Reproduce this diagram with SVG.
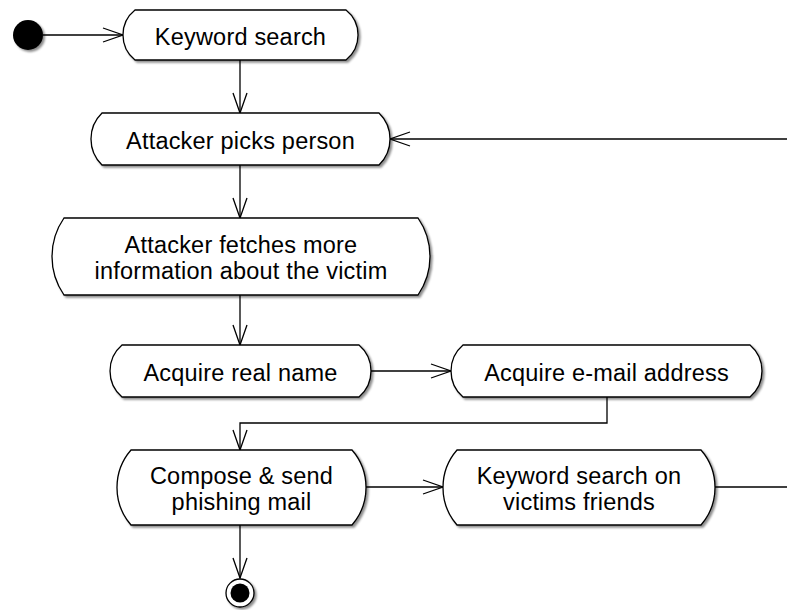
<svg xmlns="http://www.w3.org/2000/svg" width="787" height="610" viewBox="0 0 787 610">
  <defs>
    <style>
      .node path { fill: #fff; stroke: #000; stroke-width: 1.3; filter: url(#shadow); }
      .node text { font-family: "Liberation Sans", Arial, sans-serif; font-size: 23.5px; letter-spacing: 0.2px; fill: #000; text-anchor: middle; }
      .edges path { fill: none; stroke: #000; stroke-width: 1.3; }
      .edges .arrow { marker-end: url(#open); }
    </style>
    <filter id="shadow" x="-10%" y="-10%" width="125%" height="130%">
      <feDropShadow dx="2" dy="2" stdDeviation="0.8" flood-color="#000" flood-opacity="0.45"/>
    </filter>
    <marker id="open" markerUnits="userSpaceOnUse" markerWidth="24" markerHeight="18" viewBox="-22 -9 24 18" refX="0" refY="0" orient="auto">
      <path d="M-20,-7 L0,0 L-20,7" fill="none" stroke="#000" stroke-width="1.3"/>
    </marker>
  </defs>
  <rect width="787" height="610" fill="#fff"/>

  <!-- connectors -->
  <g id="edges" class="edges">
    <path class="arrow" d="M43,35 H123"/>
    <path class="arrow" d="M240,60 V113"/>
    <path class="arrow" d="M787,139 H390"/>
    <path class="arrow" d="M240,165 V218"/>
    <path class="arrow" d="M240,295 V345"/>
    <path class="arrow" d="M371,371 H451"/>
    <path class="arrow" d="M607,397 V423 H240 V450"/>
    <path class="arrow" d="M366,487 H443"/>
    <path d="M715,487 H787"/>
    <path class="arrow" d="M240,525 V578"/>
  </g>

  <!-- initial state -->
  <g id="start">
    <circle cx="28" cy="35" r="15" fill="#000" filter="url(#shadow)"/>
  </g>

  <g id="n1" class="node">
    <path d="M135,10 H346 A32,32 0 0 1 346,60 H135 A32,32 0 0 1 135,10 Z"/>
    <text x="240.5" y="45">Keyword search</text>
  </g>

  <g id="n2" class="node">
    <path d="M102,113 H379 A36.2,36.2 0 0 1 379,165 H102 A36.2,36.2 0 0 1 102,113 Z"/>
    <text x="240.5" y="148.5">Attacker picks person</text>
  </g>

  <g id="n3" class="node">
    <path d="M64,218 H418 A67.75,67.75 0 0 1 418,295 H64 A67.75,67.75 0 0 1 64,218 Z"/>
    <text x="241" y="252.5">Attacker fetches more</text>
    <text x="241" y="279">information about the victim</text>
  </g>

  <g id="n4" class="node">
    <path d="M122,345 H359 A34.2,34.2 0 0 1 359,397 H122 A34.2,34.2 0 0 1 122,345 Z"/>
    <text x="240.5" y="380.5">Acquire real name</text>
  </g>

  <g id="n5" class="node">
    <path d="M463,345 H750 A34.2,34.2 0 0 1 750,397 H463 A34.2,34.2 0 0 1 463,345 Z"/>
    <text x="606.5" y="380.5">Acquire e-mail address</text>
  </g>

  <g id="n6" class="node">
    <path d="M131,450 H352 A57.2,57.2 0 0 1 352,525 H131 A57.2,57.2 0 0 1 131,450 Z"/>
    <text x="241.5" y="483.5">Compose &amp; send</text>
    <text x="241.5" y="510">phishing mail</text>
  </g>

  <g id="n7" class="node">
    <path d="M457,450 H701 A57.2,57.2 0 0 1 701,525 H457 A57.2,57.2 0 0 1 457,450 Z"/>
    <text x="579" y="483.5">Keyword search on</text>
    <text x="579" y="510">victims friends</text>
  </g>

  <!-- final state -->
  <g id="end">
    <circle cx="240" cy="593" r="14" fill="#fff" stroke="#000" stroke-width="1.3" filter="url(#shadow)"/>
    <circle cx="240" cy="593" r="9.5" fill="#000"/>
  </g>
</svg>
